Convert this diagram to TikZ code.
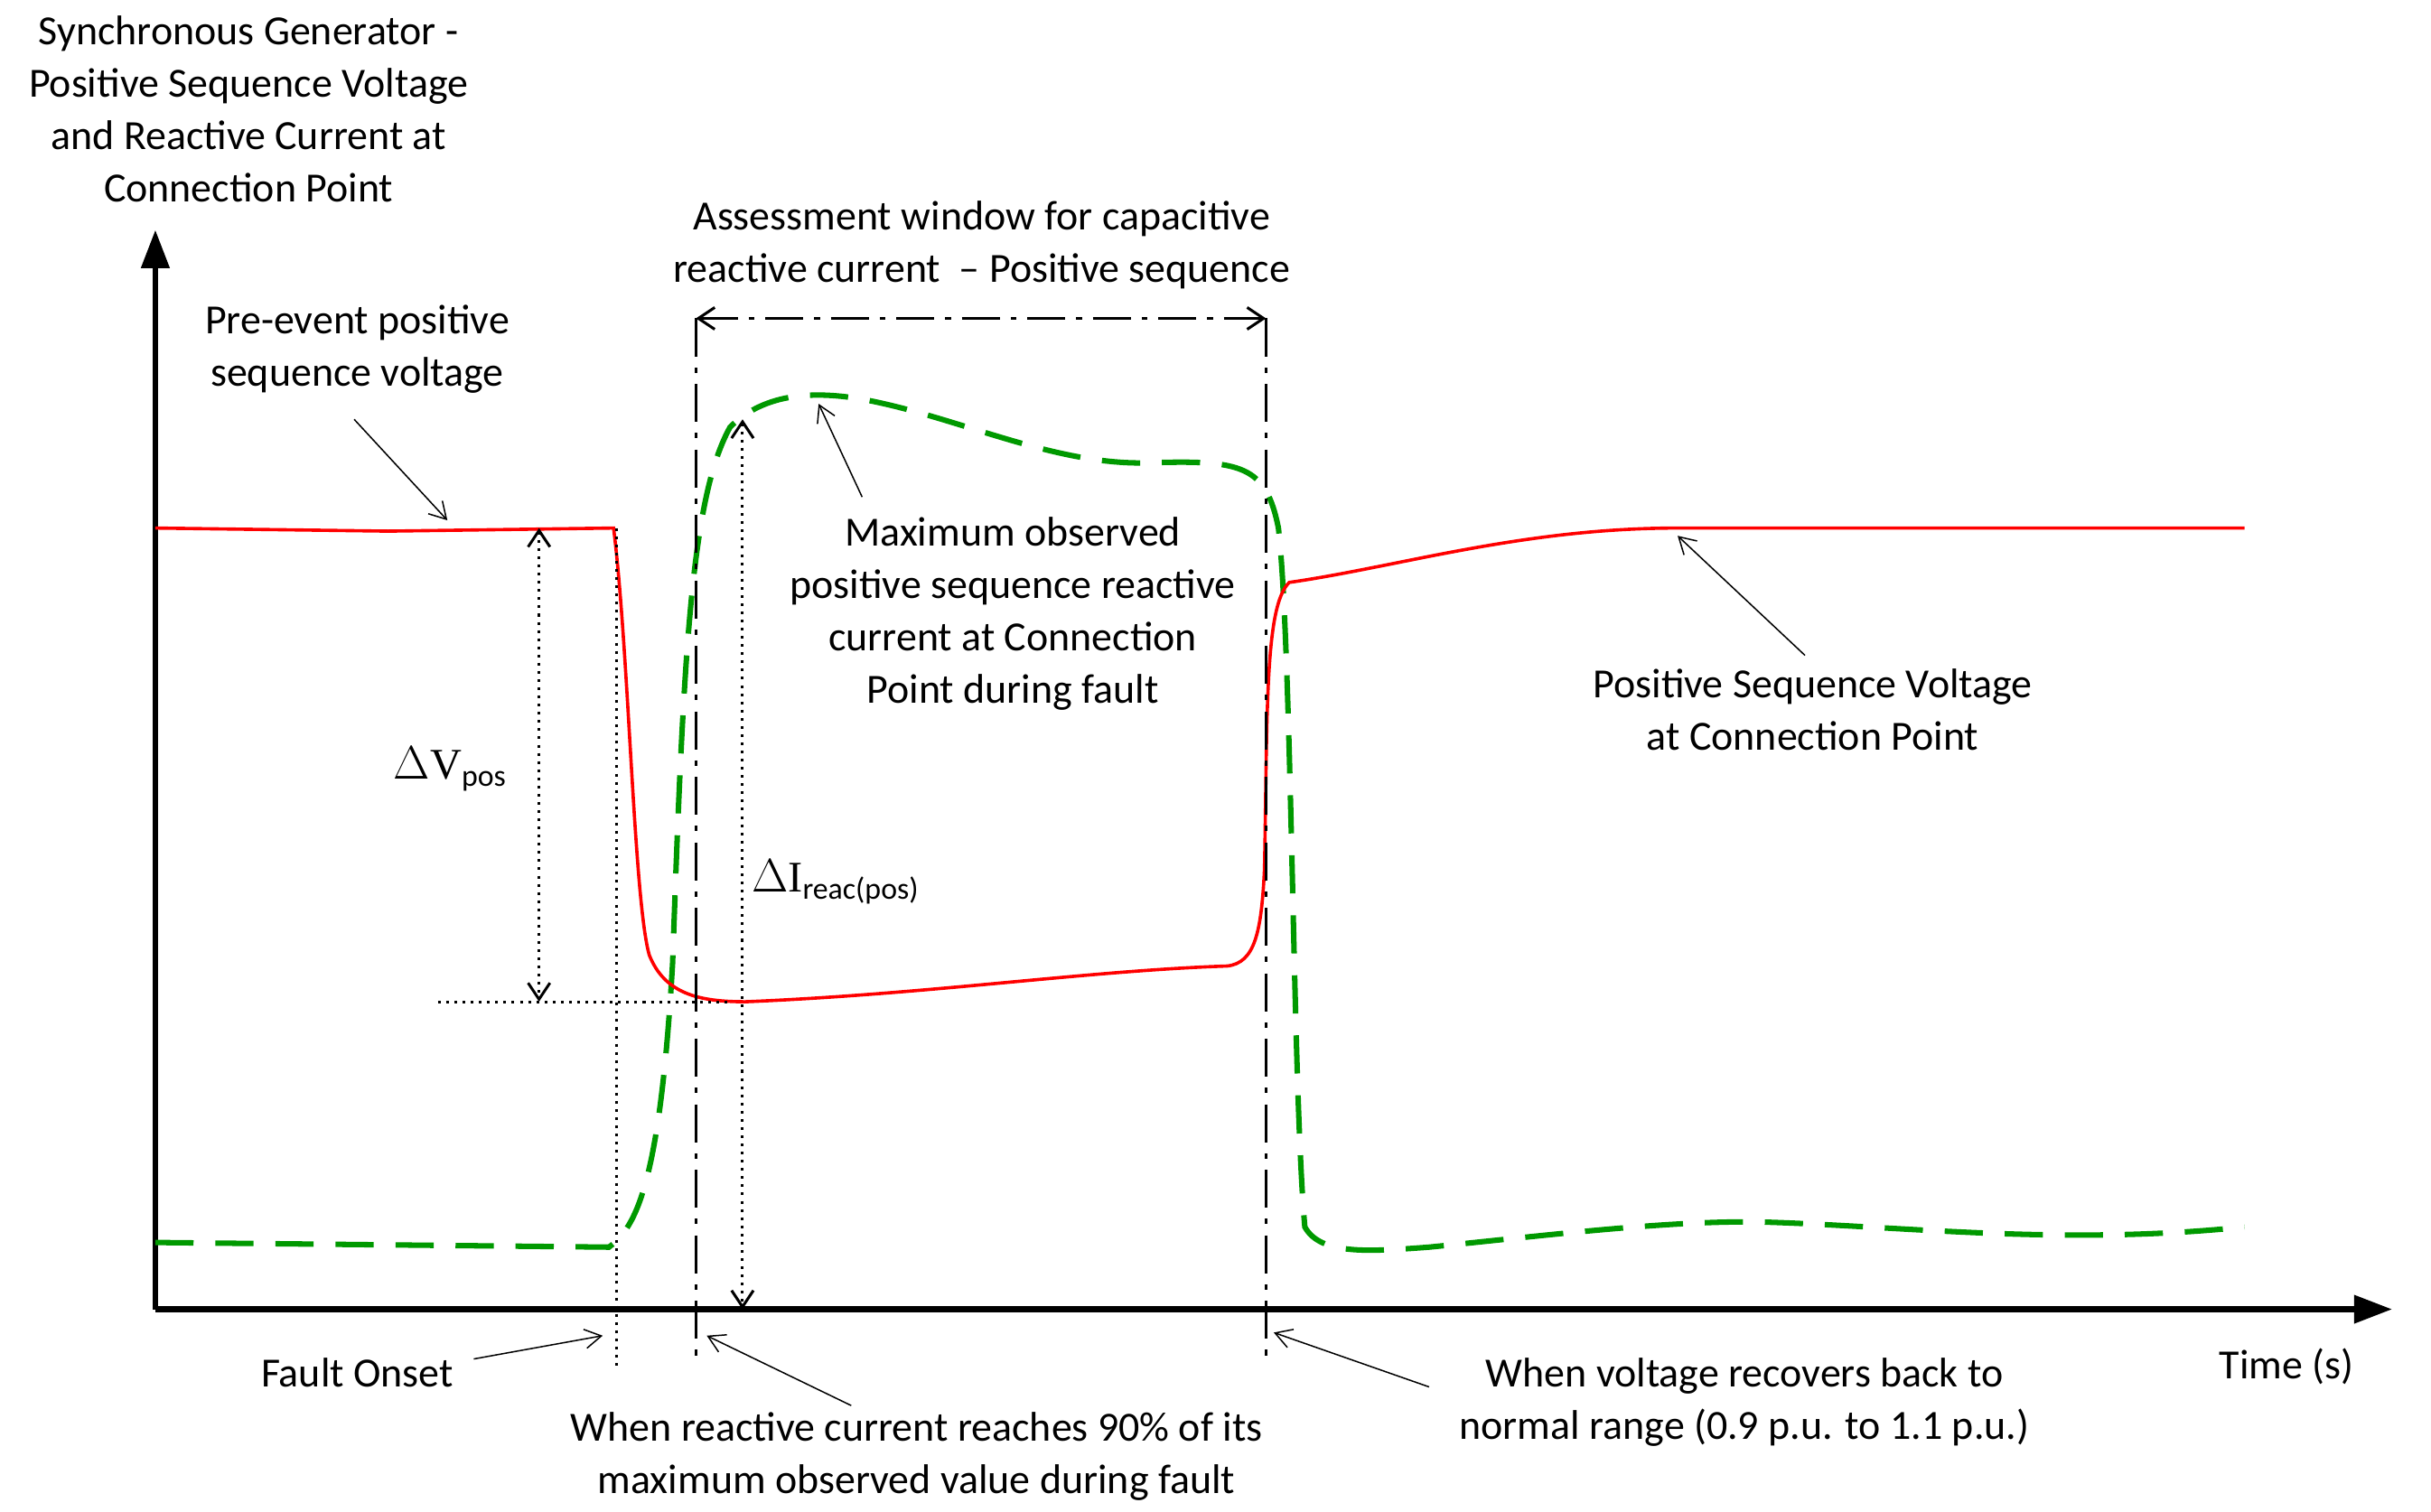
\documentclass[tikz,border=0pt]{standalone}
\usepackage{fontspec}
\setmainfont{Carlito}
\newfontfamily\serifd{Liberation Serif}
\usetikzlibrary{arrows.meta}
\tikzset{
  lbl/.style={align=center,font=\fontsize{15.2}{19.2}\selectfont,inner sep=1pt},
  ptr/.style={-{Straight Barb[length=6pt,width=7pt]},line width=0.5pt},
  marker/.style={line width=1pt,dash pattern=on 14pt off 4pt on 2pt off 4pt},
  vcurve/.style={red,line width=1.2pt},
  icurve/.style={green!60!black,line width=2pt,dash pattern=on 14pt off 8pt}
}
\begin{document}
\begin{tikzpicture}[x=0.02cm,y=-0.02cm]
    \useasboundingbox (0,0) rectangle (1565,973);
    % axes
    \coordinate (o) at (100,843);
    \coordinate (ytop) at (100,148);
    \coordinate (xend) at (1540,843);
    \draw [line width=2.2pt,-{Triangle[length=14pt,width=10pt]}] (o) -- (ytop);
    \draw [line width=2.2pt,-{Triangle[length=14pt,width=10pt]}] (o) -- (xend);
    % reactive current (dashed green)
    \draw [icurve] (100,800) -- (392,803) .. controls (410,790) and (425,760) .. (433,620)
        .. controls (440,420) and (445,320) .. (470,275)
        .. controls (490,255) and (520,250) .. (560,258)
        .. controls (620,270) and (680,300) .. (740,298)
        .. controls (800,296) and (815,300) .. (823,340)
        .. controls (832,420) and (832,700) .. (840,790)
        .. controls (850,808) and (880,806) .. (920,803)
        .. controls (1000,795) and (1080,785) .. (1140,787)
        .. controls (1230,790) and (1330,802) .. (1445,790);
    % voltage (red)
    \draw [vcurve] (100,340) -- (250,342) -- (395,340)
        .. controls (405,420) and (408,580) .. (418,615)
        .. controls (428,640) and (450,645) .. (480,645)
        .. controls (600,640) and (700,625) .. (790,622)
        .. controls (808,620) and (812,600) .. (814,560)
        .. controls (816,460) and (814,390) .. (830,375)
        .. controls (900,365) and (980,340) .. (1080,340)
        -- (1445,340);
    % markers
    \coordinate (ma) at (448,205);
    \coordinate (mab) at (448,875);
    \coordinate (mb) at (815,205);
    \coordinate (mbb) at (815,875);
    \draw [marker] (ma) -- (mab);
    \draw [marker] (mb) -- (mbb);
    \draw [marker,{Straight Barb[length=6pt,width=8pt]}-{Straight Barb[length=6pt,width=8pt]}] (ma) -- (mb);
    \coordinate (fa) at (397,340);
    \coordinate (fb) at (397,880);
    \draw [dotted,line width=1pt] (fa) -- (fb);
    \coordinate (ha) at (282,645);
    \coordinate (hb) at (470,645);
    \draw [dotted,line width=1pt] (ha) -- (hb);
    \coordinate (dva) at (347,340);
    \coordinate (dvb) at (347,645);
    \draw [dotted,line width=1pt,{Straight Barb[length=6pt,width=8pt]}-{Straight Barb[length=6pt,width=8pt]}] (dva) -- (dvb);
    \coordinate (dia) at (478,270);
    \coordinate (dib) at (478,843);
    \draw [dotted,line width=1pt,{Straight Barb[length=6pt,width=8pt]}-{Straight Barb[length=6pt,width=8pt]}] (dia) -- (dib);
    % labels
    \node [lbl] (title) at (160,70) {Synchronous Generator -\\Positive Sequence Voltage\\and Reactive Current at\\Connection Point};
    \node [lbl] (window) at (632,158) {Assessment window for capacitive\\reactive current \ -- Positive sequence};
    \node [lbl] (pre) at (230,225) {Pre-event positive\\sequence voltage};
    \node [lbl] (maxi) at (652,395) {Maximum observed\\positive sequence reactive\\current at Connection\\Point during fault};
    \node [lbl] (vpos) at (1167,457) {Positive Sequence Voltage\\at Connection Point};
    \node [lbl,font=\serifd\fontsize{16}{19}\selectfont] (dv) at (290,495) {$\Delta$V\textsubscript{\fontspec{Carlito}pos}};
    \node [lbl,font=\serifd\fontsize{16}{19}\selectfont] (di) at (538,568) {$\Delta$I\textsubscript{\fontspec{Carlito}reac(pos)}};
    \node [lbl] (onset) at (230,884) {Fault Onset};
    \node [lbl] (reach) at (590,938) {When reactive current reaches 90\% of its\\maximum observed value during fault};
    \node [lbl] (recov) at (1123,903) {When voltage recovers back to\\normal range (0.9 p.u. to 1.1 p.u.)};
    \node [lbl] (time) at (1472,880) {Time (s)};
    % pointers
    \coordinate (pre-t) at (288,335);
    \coordinate (maxi-t) at (527,260);
    \coordinate (vpos-t) at (1080,345);
    \coordinate (onset-t) at (388,860);
    \coordinate (reach-t) at (455,860);
    \coordinate (recov-t) at (820,858);
    \draw [ptr] (228,270) -- (pre-t);
    \draw [ptr] (555,320) -- (maxi-t);
    \draw [ptr] (1162,422) -- (vpos-t);
    \draw [ptr] (305,875) -- (onset-t);
    \draw [ptr] (548,905) -- (reach-t);
    \draw [ptr] (920,893) -- (recov-t);
\end{tikzpicture}
\end{document}
